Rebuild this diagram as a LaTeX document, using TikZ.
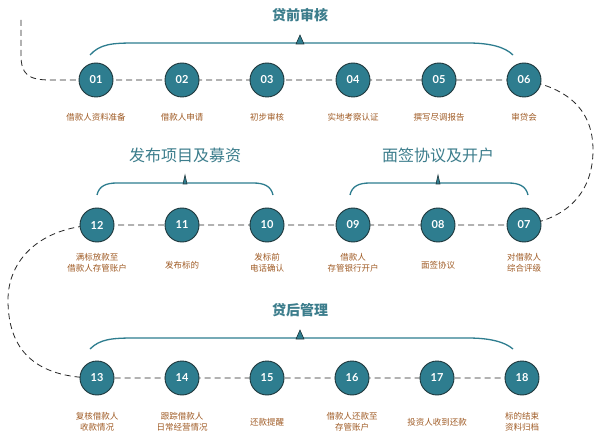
\documentclass[tikz,border=0pt]{standalone}
\usepackage{fontspec}
\newfontfamily\cjk{Noto Sans CJK SC}
\newfontfamily\numfont{Lato}
\definecolor{teal1}{RGB}{46,125,143}
\definecolor{ring}{RGB}{30,55,60}
\definecolor{headc}{RGB}{60,125,140}
\definecolor{brown1}{RGB}{160,92,38}
\tikzset{
  stepdot/.style={circle,draw=ring,line width=0.9pt,fill=teal1,minimum size=34pt,inner sep=0pt,
    text=white,font=\numfont\bfseries\fontsize{11}{12}\selectfont},
  lbl/.style={align=center,text=brown1,font=\cjk\fontsize{8.5}{10.5}\selectfont,inner sep=0pt},
  head/.style={text=headc,font=\cjk\bfseries\fontsize{14}{16}\selectfont,inner sep=0pt},
  bighead/.style={text=headc,font=\cjk\fontsize{16}{18}\selectfont,inner sep=0pt},
  link/.style={draw=black!85,line width=0.8pt,dash pattern=on 6pt off 4pt},
  brace/.style={draw=teal1,line width=1.3pt},
  tip/.style={fill=teal1,draw=ring,line width=0.6pt}
}
\begin{document}
\begin{tikzpicture}[x=1pt,y=-1pt]
\useasboundingbox[fill=white] (0,0) rectangle (600,441);
% loan review
\node[head] (h1) at (300,15) {贷前审核};
\draw[brace] (90,55) .. controls (100,44) and (112,43) .. (135,43) -- (468,43) .. controls (490,43) and (505,47) .. (513,55);
\draw[tip] (296,44)--(300,35)--(304,44)--cycle;
% dashed chains
\coordinate (s0) at (21,20);
\coordinate (r1) at (593,150);
\coordinate (l1) at (8,300);
\draw[link] (s0) -- (21,55) .. controls (21,74) and (28,80) .. (50,80) -- (96,80);
\draw[link] (96,80) -- (524,80) .. controls (568,88) and (593,110) .. (r1) .. controls (593,190) and (570,218) .. (524,225);
\draw[link] (524,225) -- (97,225) .. controls (40,227) and (8,260) .. (l1) .. controls (8,350) and (35,378) .. (97,378) -- (522,378);
\node[stepdot] (c01) at (96,80) {01};
\node[stepdot] (c02) at (182,80) {02};
\node[stepdot] (c03) at (267,80) {03};
\node[stepdot] (c04) at (353,80) {04};
\node[stepdot] (c05) at (439,80) {05};
\node[stepdot] (c06) at (524,80) {06};
\node[lbl] (t01) at (96,117) {借款人资料准备};
\node[lbl] (t02) at (182,117) {借款人申请};
\node[lbl] (t03) at (267,117) {初步审核};
\node[lbl] (t04) at (353,117) {实地考察认证};
\node[lbl] (t05) at (439,117) {撰写尽调报告};
\node[lbl] (t06) at (524,117) {审贷会};
% signing and fundraising
\node[bighead] (h2) at (185,155) {发布项目及募资};
\node[bighead] (h3) at (438,155) {面签协议及开户};
\draw[brace] (97,195) .. controls (99,186) and (106,183) .. (117,183) -- (253,183) .. controls (264,183) and (271,186) .. (273,195);
\draw[brace] (350,195) .. controls (352,186) and (359,183) .. (370,183) -- (508,183) .. controls (519,183) and (526,186) .. (528,195);
\draw[tip] (183,184)--(185,175)--(187,184)--cycle;
\draw[tip] (436,184)--(438,175)--(440,184)--cycle;
\node[stepdot] (c07) at (524,225) {07};
\node[stepdot] (c08) at (438,225) {08};
\node[stepdot] (c09) at (353,225) {09};
\node[stepdot] (c10) at (267,225) {10};
\node[stepdot] (c11) at (182,225) {11};
\node[stepdot] (c12) at (97,225) {12};
\node[lbl] (t07) at (524,263) {对借款人\\综合评级};
\node[lbl] (t08) at (438,265) {面签协议};
\node[lbl] (t09) at (353,263) {借款人\\存管银行开户};
\node[lbl] (t10) at (267,263) {发标前\\电话确认};
\node[lbl] (t11) at (182,265) {发布标的};
\node[lbl] (t12) at (97,263) {满标放款至\\借款人存管账户};
% after the loan
\node[head] (h4) at (300,310) {贷后管理};
\draw[brace] (90,349) .. controls (100,339) and (112,338) .. (135,338) -- (468,338) .. controls (490,338) and (505,342) .. (513,349);
\draw[tip] (296,339)--(300,330)--(304,339)--cycle;
\node[stepdot] (c13) at (97,378) {13};
\node[stepdot] (c14) at (182,378) {14};
\node[stepdot] (c15) at (267,378) {15};
\node[stepdot] (c16) at (352,378) {16};
\node[stepdot] (c17) at (437,378) {17};
\node[stepdot] (c18) at (522,378) {18};
\node[lbl] (t13) at (97,422) {复核借款人\\收款情况};
\node[lbl] (t14) at (182,422) {跟踪借款人\\日常经营情况};
\node[lbl] (t15) at (267,422) {还款提醒};
\node[lbl] (t16) at (352,422) {借款人还款至\\存管账户};
\node[lbl] (t17) at (437,422) {投资人收到还款};
\node[lbl] (t18) at (522,422) {标的结束\\资料归档};
\end{tikzpicture}
\end{document}
